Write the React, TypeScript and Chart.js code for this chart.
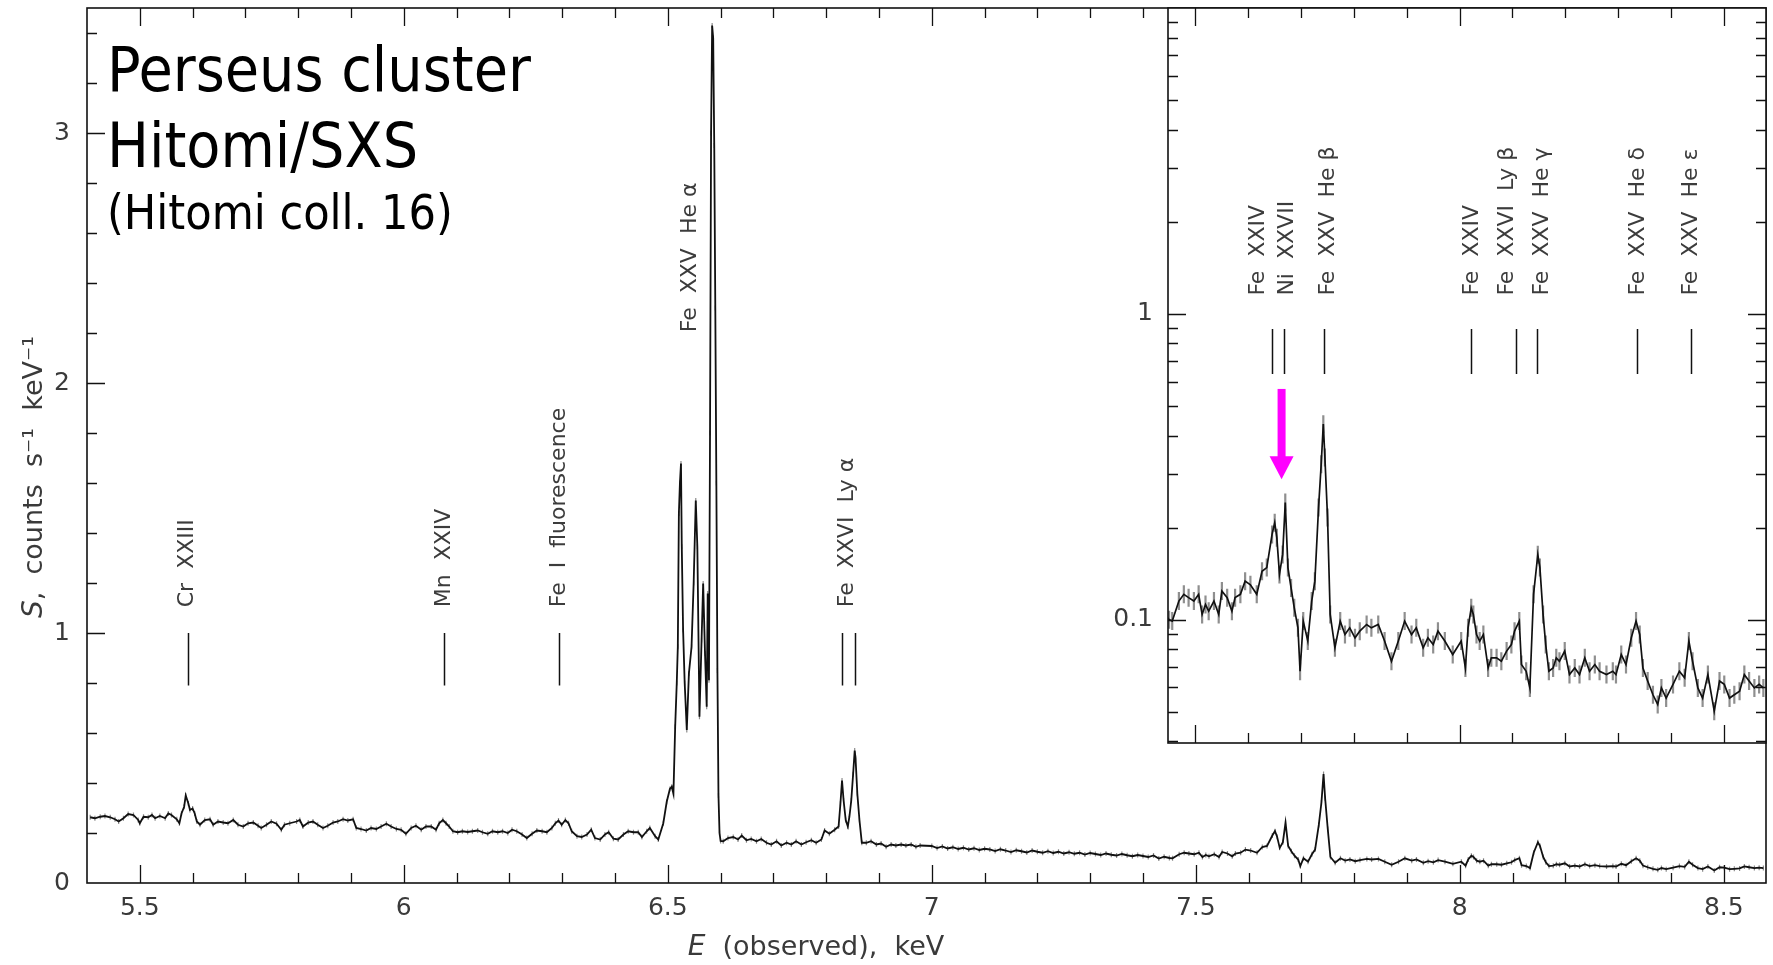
import React, { useEffect, useRef } from 'react';
import { Chart, registerables } from 'chart.js';

Chart.register(...registerables);

// ---------------- data ----------------
const ENERGY_KEV = [
  5.406, 5.415, 5.425, 5.434, 5.444, 5.453, 5.460, 5.469, 5.478, 5.488, 5.497, 5.500, 5.507, 5.516, 5.523, 5.529,
  5.538, 5.548, 5.554, 5.560, 5.570, 5.575, 5.579, 5.584, 5.587, 5.592, 5.595, 5.600, 5.604, 5.608, 5.614, 5.623,
  5.633, 5.639, 5.648, 5.658, 5.667, 5.677, 5.686, 5.696, 5.705, 5.715, 5.724, 5.730, 5.740, 5.749, 5.759, 5.768,
  5.774, 5.784, 5.797, 5.803, 5.809, 5.819, 5.828, 5.837, 5.847, 5.856, 5.866, 5.875, 5.885, 5.894, 5.904, 5.910,
  5.919, 5.929, 5.938, 5.948, 5.957, 5.967, 5.976, 5.986, 5.995, 6.004, 6.014, 6.023, 6.033, 6.042, 6.052, 6.061,
  6.067, 6.074, 6.080, 6.086, 6.093, 6.102, 6.111, 6.121, 6.130, 6.140, 6.149, 6.159, 6.168, 6.178, 6.187, 6.197,
  6.205, 6.214, 6.224, 6.233, 6.243, 6.252, 6.262, 6.271, 6.2805, 6.287, 6.293, 6.299, 6.306, 6.312, 6.318, 6.328,
  6.337, 6.347, 6.355, 6.362, 6.372, 6.381, 6.388, 6.397, 6.406, 6.416, 6.425, 6.435, 6.444, 6.451, 6.460, 6.466,
  6.476, 6.482,
  6.4915, 6.498, 6.504, 6.5075, 6.5107, 6.514, 6.517, 6.519, 6.521, 6.523, 6.525, 6.5265, 6.529, 6.532, 6.536, 6.540,
  6.545, 6.549, 6.553, 6.556, 6.560, 6.564, 6.567, 6.5705, 6.5737, 6.5756, 6.578, 6.580, 6.582, 6.584, 6.586, 6.588,
  6.590, 6.592, 6.594, 6.596, 6.598, 6.600,
  6.605, 6.614, 6.624, 6.633, 6.640, 6.649, 6.658, 6.668, 6.677, 6.687, 6.696, 6.706, 6.715, 6.725, 6.734, 6.743,
  6.753, 6.762, 6.772, 6.781, 6.791, 6.797, 6.806, 6.816, 6.8235, 6.827, 6.830, 6.833, 6.837, 6.841, 6.844, 6.8475,
  6.851, 6.854, 6.8556, 6.859, 6.863, 6.8675, 6.876, 6.885, 6.895, 6.904, 6.9135, 6.923, 6.932, 6.942, 6.951, 6.961,
  6.970, 6.978,
  7.00, 7.01, 7.02, 7.03, 7.04, 7.05, 7.06, 7.07, 7.08, 7.09, 7.10, 7.11, 7.12, 7.13, 7.14, 7.15,
  7.16, 7.17, 7.18, 7.19, 7.20, 7.21, 7.22, 7.23, 7.24, 7.25, 7.26, 7.27, 7.28, 7.29, 7.30, 7.31,
  7.32, 7.33, 7.34, 7.35, 7.36, 7.37, 7.38, 7.39, 7.40, 7.41, 7.42, 7.43, 7.44, 7.45,
  7.456, 7.4686, 7.478, 7.487, 7.497, 7.506, 7.5126, 7.519, 7.525, 7.535, 7.544, 7.550, 7.560, 7.569, 7.575, 7.585,
  7.594, 7.604, 7.616, 7.626, 7.635, 7.645, 7.650, 7.654, 7.659, 7.665, 7.670, 7.675, 7.681, 7.687, 7.694, 7.698,
  7.704, 7.7126, 7.720, 7.726, 7.733, 7.738, 7.742, 7.745, 7.750, 7.755, 7.764, 7.774, 7.783, 7.792, 7.802, 7.811,
  7.824, 7.833, 7.846, 7.858, 7.871, 7.884, 7.896, 7.909, 7.918, 7.931, 7.940, 7.950, 7.959, 7.972, 7.987, 8.003,
  8.011, 8.016,
  8.022, 8.026, 8.032, 8.038, 8.045, 8.054, 8.060, 8.070, 8.079, 8.089, 8.098, 8.104, 8.113, 8.117, 8.126, 8.133,
  8.140, 8.148, 8.152, 8.158, 8.163, 8.169, 8.177, 8.183, 8.189, 8.199, 8.208, 8.218, 8.227, 8.237, 8.246, 8.256,
  8.265, 8.278, 8.290, 8.296, 8.306, 8.315, 8.325, 8.334, 8.341, 8.347, 8.356, 8.366, 8.375, 8.382, 8.391, 8.404,
  8.416, 8.426, 8.434, 8.441, 8.451, 8.460, 8.470, 8.482, 8.492, 8.501, 8.511, 8.520, 8.530, 8.539, 8.548, 8.558,
  8.567, 8.575,
];

const FLUX = [
  0.263, 0.259, 0.265, 0.268, 0.263, 0.255, 0.246, 0.259, 0.276, 0.272, 0.252, 0.239, 0.265, 0.263, 0.272, 0.259,
  0.268, 0.259, 0.278, 0.272, 0.255, 0.239, 0.278, 0.305, 0.350, 0.318, 0.292, 0.298, 0.278, 0.246, 0.233, 0.252,
  0.255, 0.233, 0.246, 0.242, 0.239, 0.252, 0.233, 0.226, 0.239, 0.242, 0.229, 0.220, 0.233, 0.246, 0.237, 0.213,
  0.233, 0.239, 0.246, 0.252, 0.226, 0.242, 0.246, 0.233, 0.220, 0.229, 0.242, 0.246, 0.255, 0.250, 0.255, 0.220,
  0.216, 0.210, 0.220, 0.216, 0.226, 0.237, 0.226, 0.216, 0.213, 0.197, 0.220, 0.229, 0.213, 0.226, 0.226, 0.213,
  0.239, 0.252, 0.239, 0.226, 0.207, 0.203, 0.207, 0.204, 0.207, 0.210, 0.203, 0.197, 0.207, 0.203, 0.207, 0.200,
  0.213, 0.207, 0.194, 0.180, 0.197, 0.210, 0.207, 0.203, 0.220, 0.239, 0.250, 0.233, 0.252, 0.239, 0.207, 0.187,
  0.184, 0.194, 0.213, 0.180, 0.174, 0.194, 0.203, 0.177, 0.174, 0.194, 0.207, 0.203, 0.203, 0.184, 0.207, 0.220,
  0.187, 0.174,
  0.239, 0.325, 0.376, 0.385, 0.357, 0.625, 0.800, 0.945, 1.478, 1.600, 1.678, 1.345, 1.012, 0.800, 0.612, 0.838,
  0.945, 1.200, 1.530, 1.345, 0.665, 0.972, 1.198, 0.918, 0.705, 1.158, 0.811, 1.800, 3.000, 3.430, 3.380, 2.950,
  2.300, 1.600, 0.850, 0.350, 0.200, 0.168,
  0.167, 0.180, 0.184, 0.174, 0.190, 0.171, 0.176, 0.167, 0.176, 0.161, 0.154, 0.167, 0.150, 0.161, 0.154, 0.167,
  0.154, 0.163, 0.171, 0.161, 0.174, 0.210, 0.197, 0.213, 0.226, 0.318, 0.410, 0.330, 0.252, 0.226, 0.265, 0.330,
  0.435, 0.530, 0.500, 0.357, 0.252, 0.161, 0.161, 0.167, 0.154, 0.158, 0.145, 0.154, 0.150, 0.154, 0.150, 0.154,
  0.145, 0.150,
  0.148, 0.140, 0.146, 0.138, 0.143, 0.136, 0.141, 0.134, 0.139, 0.132, 0.137, 0.134, 0.128, 0.135, 0.130, 0.124,
  0.131, 0.127, 0.122, 0.130, 0.125, 0.121, 0.127, 0.120, 0.125, 0.118, 0.123, 0.117, 0.121, 0.114, 0.120, 0.116,
  0.112, 0.118, 0.113, 0.110, 0.116, 0.111, 0.107, 0.112, 0.108, 0.104, 0.110, 0.098, 0.105, 0.100,
  0.0989, 0.115, 0.121, 0.118, 0.115, 0.121, 0.104, 0.112, 0.1066, 0.115, 0.104, 0.124, 0.118, 0.1066, 0.118, 0.121,
  0.1336, 0.130, 0.121, 0.144, 0.148, 0.190, 0.2075, 0.1854, 0.1406, 0.1634, 0.2414, 0.148, 0.127, 0.1093, 0.094, 0.0678,
  0.0989, 0.0851, 0.115, 0.1336, 0.2325, 0.322, 0.4357, 0.339, 0.2157, 0.104, 0.0809, 0.0989, 0.0894, 0.094, 0.0872, 0.0917,
  0.0964, 0.094, 0.0964, 0.0851, 0.0731, 0.0851, 0.0989, 0.0894, 0.094, 0.0809, 0.0872, 0.0829, 0.0917, 0.0851, 0.0769, 0.0851,
  0.0695, 0.094,
  0.1093, 0.104, 0.0894, 0.0851, 0.0894, 0.0695, 0.075, 0.075, 0.0731, 0.0789, 0.0829, 0.0917, 0.0989, 0.0713, 0.0678, 0.0598,
  0.121, 0.163, 0.148, 0.104, 0.0829, 0.0678, 0.0695, 0.075, 0.0731, 0.0789, 0.0661, 0.0695, 0.0661, 0.075, 0.0678, 0.0713,
  0.0678, 0.0661, 0.0678, 0.0661, 0.0769, 0.0713, 0.0872, 0.0989, 0.0894, 0.0695, 0.0630, 0.0568, 0.0528, 0.0598, 0.0554, 0.0614,
  0.0678, 0.0645, 0.0851, 0.0731, 0.0598, 0.0554, 0.0661, 0.0502, 0.0630, 0.0614, 0.0554, 0.0568, 0.0583, 0.0661, 0.0630, 0.0598,
  0.0614, 0.0598,
];

// ---------------- axes ----------------
const X_MAJOR = [5.5, 6, 6.5, 7, 7.5, 8, 8.5];
const X_MINOR = [
  5.5, 5.6, 5.7, 5.8, 5.9, 6, 6.1, 6.2, 6.3, 6.4, 6.5, 6.6, 6.7, 6.8, 6.9, 7, 7.1, 7.2, 7.3, 7.4,
  7.5, 7.6, 7.7, 7.8, 7.9, 8, 8.1, 8.2, 8.3, 8.4, 8.5,
];
const Y_MAJOR = [0, 1, 2, 3];
const Y_MINOR = [0, 0.2, 0.4, 0.6, 0.8, 1, 1.2, 1.4, 1.6, 1.8, 2, 2.2, 2.4, 2.6, 2.8, 3, 3.2, 3.4];
const INSET_Y_MAJOR = [0.1, 1];
const INSET_Y_MINOR = [0.04, 0.05, 0.06, 0.07, 0.08, 0.09, 0.1, 0.2, 0.3, 0.4, 0.5, 0.6, 0.7, 0.8, 0.9, 1, 2, 3, 4, 5, 6, 7, 8, 9];

// ---------------- line identifications ----------------
const MAIN_MARK_E = [5.5907, 6.0767, 6.2948, 6.8307, 6.8545];
const MAIN_MARK_FROM = 0.79;
const MAIN_MARK_TO = 1.0;
const MAIN_LABELS = ['Cr  XXIII', 'Mn  XXIV', 'Fe  I  fluorescence', 'Fe  XXVI  Ly α', 'Fe  XXV  He α'];
const MAIN_LABEL_E = [5.5907, 6.0767, 6.2948, 6.840, 6.542];
const MAIN_LABEL_Y = [1.103, 1.103, 1.103, 1.103, 2.203];

const INSET_MARK_E = [7.6453, 7.668, 7.7438, 8.0224, 8.1072, 8.1471, 8.3355, 8.4383];
const INSET_MARK_FROM = 0.636;
const INSET_MARK_TO = 0.892;
const INSET_LABELS = ['Fe  XXIV', 'Ni  XXVII', 'Fe  XXV  He β', 'Fe  XXIV', 'Fe  XXVI  Ly β', 'Fe  XXV  He γ', 'Fe  XXV  He δ', 'Fe  XXV  He ε'];
const INSET_LABEL_E = [7.618, 7.673, 7.751, 8.0244, 8.091, 8.157, 8.339, 8.439];
const INSET_LABEL_Y = 1.147;

const ARROW_E = 7.663;
const ARROW_TOP = 0.568;
const ARROW_TIP = 0.288;

const TITLE_LINES = ['Perseus cluster', 'Hitomi/SXS', '(Hitomi coll. 16)'];

// ---------------- helpers ----------------
const SANS = "'DejaVu Sans', sans-serif";
const COND = "'DejaVu Sans Condensed', 'DejaVu Sans', sans-serif";

function drawFrameTicks(chart: any, cfg: any) {
  const { ctx, chartArea: a } = chart;
  const xs = chart.scales.x;
  const ys = chart.scales.y;
  const px = (v: number) => Math.round(xs.getPixelForValue(v)) + 0.5;
  const py = (v: number) => Math.round(ys.getPixelForValue(v)) + 0.5;
  ctx.save();
  ctx.strokeStyle = '#111';
  ctx.lineWidth = cfg.lw;
  ctx.beginPath();
  for (const v of cfg.xMinor) {
    const p = px(v);
    if (p <= a.left + 1 || p >= a.right - 1) continue;
    const L = cfg.xMajor.includes(v) ? cfg.maj : cfg.min;
    ctx.moveTo(p, a.bottom);
    ctx.lineTo(p, a.bottom - L);
    if (cfg.top) {
      ctx.moveTo(p, a.top);
      ctx.lineTo(p, a.top + L);
    }
  }
  for (const v of cfg.yMinor) {
    const p = py(v);
    if (p <= a.top + 1 || p >= a.bottom - 1) continue;
    const L = cfg.yMajor.includes(v) ? cfg.maj : cfg.min;
    ctx.moveTo(a.left, p);
    ctx.lineTo(a.left + L, p);
    if (cfg.right) {
      ctx.moveTo(a.right, p);
      ctx.lineTo(a.right - L, p);
    }
  }
  ctx.stroke();
  ctx.lineWidth = cfg.frame;
  ctx.strokeRect(a.left, a.top, a.right - a.left, a.bottom - a.top);
  ctx.restore();
}

function drawErrorBars(chart: any, half: number, color: string, lw: number) {
  const { ctx, chartArea: a } = chart;
  const meta = chart.getDatasetMeta(0);
  ctx.save();
  ctx.beginPath();
  ctx.rect(a.left, a.top, a.right - a.left, a.bottom - a.top);
  ctx.clip();
  ctx.strokeStyle = color;
  ctx.lineWidth = lw;
  ctx.beginPath();
  for (const el of meta.data) {
    if (!isFinite(el.x) || !isFinite(el.y)) continue;
    ctx.moveTo(el.x, el.y - half);
    ctx.lineTo(el.x, el.y + half);
  }
  ctx.stroke();
  ctx.restore();
}

function drawVerticalLabel(ctx: any, text: string, x: number, y: number, font: string) {
  ctx.save();
  ctx.translate(x, y);
  ctx.rotate(-Math.PI / 2);
  ctx.font = font;
  ctx.textAlign = 'left';
  ctx.textBaseline = 'middle';
  ctx.fillText(text, 0, 0);
  ctx.restore();
}

function drawRich(ctx: any, parts: { t: string; f: string }[], cx: number, cy: number, rotate: boolean) {
  ctx.save();
  ctx.translate(cx, cy);
  if (rotate) ctx.rotate(-Math.PI / 2);
  ctx.textBaseline = 'middle';
  ctx.textAlign = 'left';
  let w = 0;
  for (const p of parts) {
    ctx.font = p.f;
    w += ctx.measureText(p.t).width;
  }
  let x = -w / 2;
  for (const p of parts) {
    ctx.font = p.f;
    ctx.fillText(p.t, x, 0);
    x += ctx.measureText(p.t).width;
  }
  ctx.restore();
}

const points = () => ENERGY_KEV.map((e, i) => ({ x: e, y: FLUX[i] }));

export default function App() {
  const mainRef = useRef<HTMLCanvasElement | null>(null);
  const insetRef = useRef<HTMLCanvasElement | null>(null);

  useEffect(() => {
    if (!mainRef.current || !insetRef.current) return;

    const mainDecor = {
      id: 'mainDecor',
      beforeDatasetsDraw(chart: any) {
        drawErrorBars(chart, 2.5, 'rgba(110,110,110,0.8)', 1.2);
      },
      afterDraw(chart: any) {
        const { ctx } = chart;
        const xs = chart.scales.x;
        const ys = chart.scales.y;
        drawFrameTicks(chart, {
          xMajor: X_MAJOR, xMinor: X_MINOR, yMajor: Y_MAJOR, yMinor: Y_MINOR,
          maj: 18, min: 10, lw: 1.3, frame: 1.6, top: true, right: false,
        });
        // line markers
        ctx.save();
        ctx.strokeStyle = '#111';
        ctx.lineWidth = 1.5;
        ctx.beginPath();
        for (const e of MAIN_MARK_E) {
          const x = Math.round(xs.getPixelForValue(e)) + 0.5;
          ctx.moveTo(x, ys.getPixelForValue(MAIN_MARK_FROM));
          ctx.lineTo(x, ys.getPixelForValue(MAIN_MARK_TO));
        }
        ctx.stroke();
        ctx.fillStyle = '#3c3c3c';
        MAIN_LABELS.forEach((t, i) => {
          drawVerticalLabel(ctx, t, xs.getPixelForValue(MAIN_LABEL_E[i]), ys.getPixelForValue(MAIN_LABEL_Y[i]), `22px ${SANS}`);
        });
        // title
        ctx.fillStyle = '#000';
        ctx.textAlign = 'left';
        ctx.textBaseline = 'alphabetic';
        ctx.font = `62px ${COND}`;
        ctx.fillText(TITLE_LINES[0], 107, 91);
        ctx.fillText(TITLE_LINES[1], 107, 167);
        ctx.font = `48px ${COND}`;
        ctx.fillText(TITLE_LINES[2], 107, 229);
        // axis titles
        ctx.fillStyle = '#3a3a3a';
        drawRich(ctx, [
          { t: 'E', f: `italic 28px ${SANS}` },
          { t: '  (observed),  keV', f: `27px ${SANS}` },
        ], 816, 948, false);
        drawRich(ctx, [
          { t: 'S', f: `italic 28px ${SANS}` },
          { t: ',  counts  s⁻¹  keV⁻¹', f: `27px ${SANS}` },
        ], 35, 477, true);
        ctx.restore();
      },
    };

    const insetDecor = {
      id: 'insetDecor',
      beforeDraw(chart: any) {
        const { ctx, chartArea: a } = chart;
        ctx.save();
        ctx.fillStyle = '#fff';
        ctx.fillRect(a.left, a.top, a.right - a.left, a.bottom - a.top);
        ctx.restore();
      },
      beforeDatasetsDraw(chart: any) {
        drawErrorBars(chart, 9, 'rgba(105,105,105,0.75)', 2.2);
      },
      afterDraw(chart: any) {
        const { ctx } = chart;
        const xs = chart.scales.x;
        const ys = chart.scales.y;
        drawFrameTicks(chart, {
          xMajor: X_MAJOR, xMinor: X_MINOR, yMajor: INSET_Y_MAJOR, yMinor: INSET_Y_MINOR,
          maj: 18, min: 10, lw: 1.3, frame: 1.6, top: true, right: true,
        });
        ctx.save();
        ctx.strokeStyle = '#111';
        ctx.lineWidth = 1.5;
        ctx.beginPath();
        for (const e of INSET_MARK_E) {
          const x = Math.round(xs.getPixelForValue(e)) + 0.5;
          ctx.moveTo(x, ys.getPixelForValue(INSET_MARK_FROM));
          ctx.lineTo(x, ys.getPixelForValue(INSET_MARK_TO));
        }
        ctx.stroke();
        ctx.fillStyle = '#3c3c3c';
        INSET_LABELS.forEach((t, i) => {
          drawVerticalLabel(ctx, t, xs.getPixelForValue(INSET_LABEL_E[i]), ys.getPixelForValue(INSET_LABEL_Y), `22px ${SANS}`);
        });
        // magenta arrow
        const ax = xs.getPixelForValue(ARROW_E);
        const top = ys.getPixelForValue(ARROW_TOP);
        const tip = ys.getPixelForValue(ARROW_TIP);
        const headLen = 23;
        const headHalf = 12;
        ctx.fillStyle = '#ff00ff';
        ctx.fillRect(ax - 4, top, 8, tip - top - headLen + 1);
        ctx.beginPath();
        ctx.moveTo(ax - headHalf, tip - headLen);
        ctx.lineTo(ax + headHalf, tip - headLen);
        ctx.lineTo(ax, tip);
        ctx.closePath();
        ctx.fill();
        ctx.restore();
      },
    };

    const tickFont = { family: SANS, size: 25 };
    const fitY = (w: number) => (s: any) => { s.width = w; s.paddingTop = 0; s.paddingBottom = 0; };
    const fitX = (h: number) => (s: any) => { s.height = h; s.paddingLeft = 0; s.paddingRight = 0; };

    const main = new Chart(mainRef.current, {
      type: 'scatter',
      data: {
        datasets: [{
          data: points(),
          showLine: true,
          borderColor: '#111',
          borderWidth: 1.8,
          pointRadius: 0,
          tension: 0,
        }],
      },
      options: {
        responsive: false,
        animation: false,
        devicePixelRatio: 1,
        layout: { padding: { left: 0, top: 8, right: 7, bottom: 0 } },
        plugins: { legend: { display: false }, tooltip: { enabled: false } },
        scales: {
          x: {
            type: 'linear', min: 5.4, max: 8.58,
            grid: { display: false, drawTicks: false },
            border: { display: false },
            afterBuildTicks: (s: any) => { s.ticks = X_MAJOR.map((v) => ({ value: v })); },
            afterFit: fitX(82),
            ticks: { autoSkip: false, maxRotation: 0, padding: 10, color: '#3a3a3a', font: tickFont, callback: (v: any) => String(v) },
          },
          y: {
            type: 'linear', min: 0, max: 3.5,
            grid: { display: false, drawTicks: false },
            border: { display: false },
            afterBuildTicks: (s: any) => { s.ticks = Y_MAJOR.map((v) => ({ value: v })); },
            afterFit: fitY(87),
            ticks: { autoSkip: false, padding: 17, color: '#3a3a3a', font: tickFont, callback: (v: any) => String(v) },
          },
        },
      },
      plugins: [mainDecor],
    } as any);

    const inset = new Chart(insetRef.current, {
      type: 'scatter',
      data: {
        datasets: [{
          data: points(),
          showLine: true,
          borderColor: '#111',
          borderWidth: 1.7,
          pointRadius: 0,
          tension: 0,
        }],
      },
      options: {
        responsive: false,
        animation: false,
        devicePixelRatio: 1,
        layout: { padding: { left: 0, top: 8, right: 7, bottom: 0 } },
        plugins: { legend: { display: false }, tooltip: { enabled: false } },
        scales: {
          x: {
            type: 'linear', min: 7.448, max: 8.58,
            grid: { display: false, drawTicks: false },
            border: { display: false },
            afterFit: fitX(17),
            ticks: { display: false },
          },
          y: {
            type: 'logarithmic', min: 0.0395, max: 10,
            grid: { display: false, drawTicks: false },
            border: { display: false },
            afterBuildTicks: (s: any) => { s.ticks = INSET_Y_MAJOR.map((v) => ({ value: v })); },
            afterFit: fitY(68),
            ticks: { autoSkip: false, padding: 15, color: '#3a3a3a', font: tickFont, callback: (v: any) => String(v) },
          },
        },
      },
      plugins: [insetDecor],
    } as any);

    return () => {
      main.destroy();
      inset.destroy();
    };
  }, []);

  return (
    <div style={{ position: 'absolute', left: 0, top: 0, width: 1773, height: 965, background: '#fff' }}>
      <canvas ref={mainRef} width={1773} height={965} style={{ position: 'absolute', left: 0, top: 0 }} />
      <canvas ref={insetRef} width={673} height={760} style={{ position: 'absolute', left: 1100, top: 0 }} />
    </div>
  );
}
